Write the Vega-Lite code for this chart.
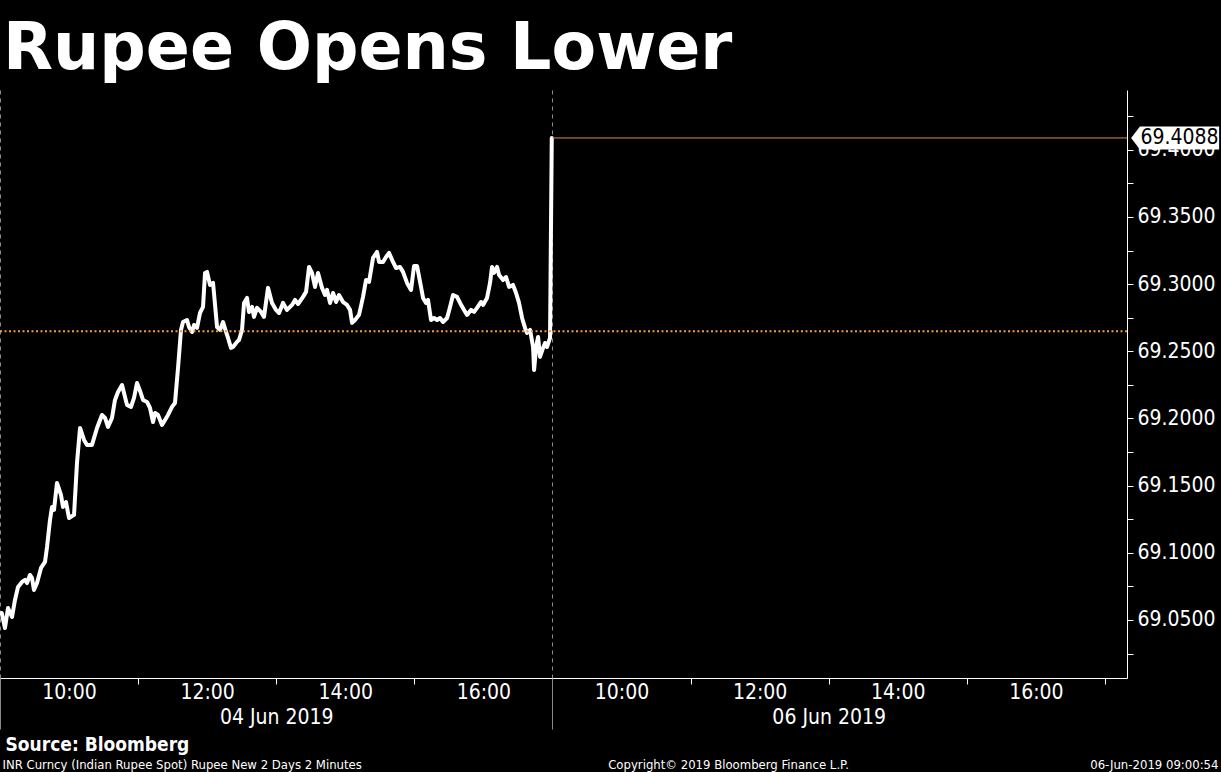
{
  "$schema": "https://vega.github.io/schema/vega-lite/v6.json",
  "width": 1127,
  "height": 588,
  "autosize": {"type": "none"},
  "padding": {"left": 0, "top": 90, "right": 94, "bottom": 94},
  "background": "#000000",
  "title": {
    "text": "Rupee Opens Lower",
    "anchor": "start",
    "frame": "group",
    "orient": "top",
    "font": "DejaVu Sans",
    "fontWeight": "bold",
    "fontSize": 65,
    "color": "#ffffff",
    "baseline": "alphabetic",
    "offset": -44,
    "dx": 3
  },
  "config": {
    "view": {"stroke": null},
    "axis": {"labelFont": "DejaVu Sans Condensed", "titleFont": "DejaVu Sans Condensed"}
  },
  "datasets": {
    "series": [
      {"t": 0.025, "v": 69.0552}, {"t": 0.072, "v": 69.0440}, {"t": 0.116, "v": 69.0589}, {"t": 0.174, "v": 69.0522},
      {"t": 0.217, "v": 69.0649}, {"t": 0.261, "v": 69.0746}, {"t": 0.319, "v": 69.0783}, {"t": 0.362, "v": 69.0798},
      {"t": 0.391, "v": 69.0775}, {"t": 0.434, "v": 69.0835}, {"t": 0.463, "v": 69.0813}, {"t": 0.492, "v": 69.0723},
      {"t": 0.536, "v": 69.0775}, {"t": 0.594, "v": 69.0887}, {"t": 0.652, "v": 69.0932}, {"t": 0.681, "v": 69.1043},
      {"t": 0.724, "v": 69.1244}, {"t": 0.753, "v": 69.1341}, {"t": 0.782, "v": 69.1319}, {"t": 0.825, "v": 69.1520},
      {"t": 0.883, "v": 69.1431}, {"t": 0.912, "v": 69.1341}, {"t": 0.956, "v": 69.1378}, {"t": 0.999, "v": 69.1259},
      {"t": 1.072, "v": 69.1282}, {"t": 1.115, "v": 69.1669}, {"t": 1.159, "v": 69.1929}, {"t": 1.217, "v": 69.1840},
      {"t": 1.260, "v": 69.1803}, {"t": 1.332, "v": 69.1803}, {"t": 1.405, "v": 69.1929}, {"t": 1.477, "v": 69.2026},
      {"t": 1.521, "v": 69.2004}, {"t": 1.564, "v": 69.1937}, {"t": 1.622, "v": 69.2004}, {"t": 1.665, "v": 69.2138},
      {"t": 1.709, "v": 69.2197}, {"t": 1.767, "v": 69.2249}, {"t": 1.796, "v": 69.2190}, {"t": 1.839, "v": 69.2101},
      {"t": 1.897, "v": 69.2086}, {"t": 1.941, "v": 69.2153}, {"t": 1.984, "v": 69.2264}, {"t": 2.028, "v": 69.2205},
      {"t": 2.071, "v": 69.2138}, {"t": 2.129, "v": 69.2123}, {"t": 2.172, "v": 69.2078}, {"t": 2.216, "v": 69.1974},
      {"t": 2.245, "v": 69.2041}, {"t": 2.288, "v": 69.2026}, {"t": 2.346, "v": 69.1952}, {"t": 2.390, "v": 69.1989},
      {"t": 2.433, "v": 69.2026}, {"t": 2.491, "v": 69.2086}, {"t": 2.534, "v": 69.2115}, {"t": 2.578, "v": 69.2376},
      {"t": 2.621, "v": 69.2659}, {"t": 2.650, "v": 69.2718}, {"t": 2.708, "v": 69.2733}, {"t": 2.737, "v": 69.2681},
      {"t": 2.781, "v": 69.2644}, {"t": 2.810, "v": 69.2696}, {"t": 2.853, "v": 69.2674}, {"t": 2.896, "v": 69.2785},
      {"t": 2.940, "v": 69.2830}, {"t": 2.969, "v": 69.3083}, {"t": 2.998, "v": 69.3091}, {"t": 3.041, "v": 69.2994},
      {"t": 3.085, "v": 69.3009}, {"t": 3.114, "v": 69.2845}, {"t": 3.143, "v": 69.2681}, {"t": 3.186, "v": 69.2659},
      {"t": 3.230, "v": 69.2718}, {"t": 3.273, "v": 69.2644}, {"t": 3.302, "v": 69.2599}, {"t": 3.345, "v": 69.2525},
      {"t": 3.374, "v": 69.2532}, {"t": 3.432, "v": 69.2570}, {"t": 3.461, "v": 69.2584}, {"t": 3.505, "v": 69.2659},
      {"t": 3.534, "v": 69.2860}, {"t": 3.577, "v": 69.2897}, {"t": 3.606, "v": 69.2793}, {"t": 3.650, "v": 69.2830},
      {"t": 3.678, "v": 69.2756}, {"t": 3.722, "v": 69.2823}, {"t": 3.780, "v": 69.2793}, {"t": 3.823, "v": 69.2756},
      {"t": 3.881, "v": 69.2972}, {"t": 3.939, "v": 69.2860}, {"t": 3.997, "v": 69.2808}, {"t": 4.041, "v": 69.2785},
      {"t": 4.098, "v": 69.2860}, {"t": 4.156, "v": 69.2808}, {"t": 4.229, "v": 69.2845}, {"t": 4.272, "v": 69.2882},
      {"t": 4.316, "v": 69.2852}, {"t": 4.388, "v": 69.2905}, {"t": 4.432, "v": 69.2942}, {"t": 4.475, "v": 69.3128},
      {"t": 4.518, "v": 69.3083}, {"t": 4.562, "v": 69.2979}, {"t": 4.605, "v": 69.3083}, {"t": 4.663, "v": 69.2972},
      {"t": 4.707, "v": 69.2919}, {"t": 4.736, "v": 69.2957}, {"t": 4.779, "v": 69.2860}, {"t": 4.823, "v": 69.2934},
      {"t": 4.866, "v": 69.2867}, {"t": 4.909, "v": 69.2919}, {"t": 4.967, "v": 69.2867}, {"t": 5.025, "v": 69.2845},
      {"t": 5.069, "v": 69.2808}, {"t": 5.098, "v": 69.2711}, {"t": 5.141, "v": 69.2733}, {"t": 5.199, "v": 69.2771},
      {"t": 5.257, "v": 69.2905}, {"t": 5.301, "v": 69.3031}, {"t": 5.344, "v": 69.3016}, {"t": 5.402, "v": 69.3195},
      {"t": 5.460, "v": 69.3240}, {"t": 5.489, "v": 69.3165}, {"t": 5.547, "v": 69.3165}, {"t": 5.590, "v": 69.3202},
      {"t": 5.634, "v": 69.3232}, {"t": 5.691, "v": 69.3165}, {"t": 5.735, "v": 69.3120}, {"t": 5.793, "v": 69.3128},
      {"t": 5.836, "v": 69.3091}, {"t": 5.894, "v": 69.3009}, {"t": 5.952, "v": 69.2957}, {"t": 5.996, "v": 69.3135},
      {"t": 6.039, "v": 69.3135}, {"t": 6.083, "v": 69.3016}, {"t": 6.126, "v": 69.2897}, {"t": 6.169, "v": 69.2860},
      {"t": 6.198, "v": 69.2882}, {"t": 6.242, "v": 69.2733}, {"t": 6.285, "v": 69.2748}, {"t": 6.329, "v": 69.2733},
      {"t": 6.372, "v": 69.2748}, {"t": 6.416, "v": 69.2718}, {"t": 6.474, "v": 69.2748}, {"t": 6.517, "v": 69.2830},
      {"t": 6.560, "v": 69.2919}, {"t": 6.618, "v": 69.2905}, {"t": 6.662, "v": 69.2860}, {"t": 6.720, "v": 69.2808},
      {"t": 6.763, "v": 69.2771}, {"t": 6.821, "v": 69.2808}, {"t": 6.865, "v": 69.2793}, {"t": 6.908, "v": 69.2823},
      {"t": 6.966, "v": 69.2867}, {"t": 6.995, "v": 69.2845}, {"t": 7.053, "v": 69.2897}, {"t": 7.096, "v": 69.3009},
      {"t": 7.125, "v": 69.3128}, {"t": 7.154, "v": 69.3083}, {"t": 7.198, "v": 69.3128}, {"t": 7.227, "v": 69.3068},
      {"t": 7.285, "v": 69.3031}, {"t": 7.328, "v": 69.3053}, {"t": 7.372, "v": 69.2979}, {"t": 7.429, "v": 69.2994},
      {"t": 7.473, "v": 69.2934}, {"t": 7.516, "v": 69.2860}, {"t": 7.560, "v": 69.2748}, {"t": 7.603, "v": 69.2674},
      {"t": 7.632, "v": 69.2637}, {"t": 7.676, "v": 69.2659}, {"t": 7.719, "v": 69.2532}, {"t": 7.734, "v": 69.2361},
      {"t": 7.763, "v": 69.2532}, {"t": 7.792, "v": 69.2607}, {"t": 7.820, "v": 69.2458}, {"t": 7.864, "v": 69.2525},
      {"t": 7.893, "v": 69.2562}, {"t": 7.922, "v": 69.2532}, {"t": 7.965, "v": 69.2599}, {"t": 7.990, "v": 69.4088}
    ],
    "prev": [{"v": 69.265}],
    "last": [{"v": 69.4088, "label": "69.4088"}]
  },
  "resolve": {"axis": {"x": "independent", "y": "independent"}},
  "layer": [
    {
      "data": {"name": "series"},
      "mark": {"type": "line", "color": "#ffffff", "strokeWidth": 4, "strokeJoin": "round", "strokeCap": "round"},
      "encoding": {
        "x": {
          "field": "t", "type": "quantitative",
          "scale": {"domain": [0, 16.32], "nice": false, "zero": false},
          "axis": {
            "orient": "bottom",
            "values": [1, 3, 5, 7, 9, 11, 13, 15],
            "labelExpr": "(datum.value % 8 + 9) + ':00'",
            "ticks": false, "tickSize": 0,
            "domain": true, "domainColor": "#ffffff", "domainWidth": 1,
            "grid": false,
            "labelFontSize": 21, "labelColor": "#ffffff", "labelBaseline": "middle",
            "labelPadding": 14, "labelFlush": false, "labelOverlap": false,
            "title": "Source: Bloomberg",
            "titleFontWeight": "bold", "titleFontSize": 19, "titleColor": "#ffffff",
            "titleX": 5, "titleY": 72, "titleAlign": "left", "titleBaseline": "alphabetic", "titleAnchor": "start"
          }
        },
        "y": {
          "field": "v", "type": "quantitative",
          "scale": {"domain": [69.0068, 69.4445], "nice": false, "zero": false},
          "axis": {
            "orient": "right",
            "values": [69.025, 69.05, 69.075, 69.1, 69.125, 69.15, 69.175, 69.2, 69.225, 69.25, 69.275, 69.3, 69.325, 69.35, 69.375, 69.4, 69.425],
            "labelExpr": "abs(datum.value * 20 - round(datum.value * 20)) < 0.001 ? format(datum.value, '.4f') : ''",
            "tickSize": 6, "tickColor": "#ffffff",
            "domainColor": "#ffffff", "grid": false,
            "labelFontSize": 21, "labelColor": "#ffffff", "labelPadding": 4, "labelBaseline": "middle",
            "labelFlush": false, "labelOverlap": false,
            "title": null
          }
        }
      }
    },
    {
      "data": {"name": "prev"},
      "mark": {"type": "rule", "color": "#f09a4a", "strokeWidth": 2, "strokeDash": [2, 2.5]},
      "encoding": {
        "y": {"field": "v", "type": "quantitative", "scale": {"domain": [69.0068, 69.4445], "nice": false, "zero": false}, "axis": null},
        "x": {
          "datum": 0, "type": "quantitative",
          "scale": {"domain": [0, 16.32], "nice": false, "zero": false},
          "axis": {
            "orient": "bottom",
            "values": [2, 4, 6, 10, 12, 14, 16],
            "labels": false, "domain": false, "grid": false,
            "ticks": true, "tickSize": 6, "tickColor": "#ffffff",
            "title": "INR Curncy (Indian Rupee Spot) Rupee New 2 Days 2 Minutes",
            "titleFontWeight": "normal", "titleFontSize": 13, "titleColor": "#ffffff",
            "titleX": 2, "titleY": 90, "titleAlign": "left", "titleBaseline": "alphabetic"
          }
        },
        "x2": {"datum": 16.32}
      }
    },
    {
      "data": {"name": "last"},
      "mark": {"type": "rule", "color": "#d98a52", "strokeWidth": 1},
      "encoding": {
        "y": {"field": "v", "type": "quantitative", "scale": {"domain": [69.0068, 69.4445], "nice": false, "zero": false}, "axis": null},
        "x": {
          "datum": 8, "type": "quantitative",
          "scale": {"domain": [0, 16.32], "nice": false, "zero": false},
          "axis": {
            "orient": "bottom",
            "values": [4, 12],
            "labelExpr": "datum.value < 8 ? '04 Jun 2019' : '06 Jun 2019'",
            "ticks": false, "tickSize": 0, "domain": false, "grid": false,
            "labelFontSize": 21, "labelColor": "#ffffff", "labelBaseline": "middle",
            "labelPadding": 39, "labelFlush": false, "labelOverlap": false,
            "title": "Copyright\u00a9 2019 Bloomberg Finance L.P.",
            "titleFontWeight": "normal", "titleFontSize": 13, "titleColor": "#ffffff",
            "titleX": 728, "titleY": 90, "titleAlign": "center", "titleBaseline": "alphabetic"
          }
        },
        "x2": {"datum": 16.32}
      }
    },
    {
      "data": {"name": "last"},
      "mark": {"type": "point", "shape": "M-1,0 L-0.8,-0.26 L1,-0.26 L1,0.26 L-0.8,0.26 Z", "filled": true, "fill": "#ffffff", "opacity": 1, "size": 7744, "strokeWidth": 0},
      "encoding": {
        "y": {"field": "v", "type": "quantitative", "scale": {"domain": [69.0068, 69.4445], "nice": false, "zero": false}, "axis": null},
        "x": {
          "datum": 17.017, "type": "quantitative",
          "scale": {"domain": [0, 16.32], "nice": false, "zero": false},
          "axis": {
            "orient": "bottom",
            "values": [0, 8],
            "labels": false, "domain": false,
            "grid": true, "gridDash": [4, 4], "gridColor": "#8a8a8a", "gridWidth": 1,
            "ticks": true, "tickSize": 51, "tickColor": "#8a8a8a",
            "title": "06-Jun-2019 09:00:54",
            "titleFontWeight": "normal", "titleFontSize": 13, "titleColor": "#ffffff",
            "titleX": 1218, "titleY": 90, "titleAlign": "right", "titleBaseline": "alphabetic"
          }
        }
      }
    },
    {
      "data": {"name": "last"},
      "mark": {"type": "text", "font": "DejaVu Sans Condensed", "fontSize": 21, "color": "#000000", "align": "center", "baseline": "middle"},
      "encoding": {
        "y": {"field": "v", "type": "quantitative", "scale": {"domain": [69.0068, 69.4445], "nice": false, "zero": false}, "axis": null},
        "x": {"datum": 17.08, "type": "quantitative", "scale": {"domain": [0, 16.32], "nice": false, "zero": false}, "axis": null},
        "text": {"field": "label"}
      }
    }
  ]
}
